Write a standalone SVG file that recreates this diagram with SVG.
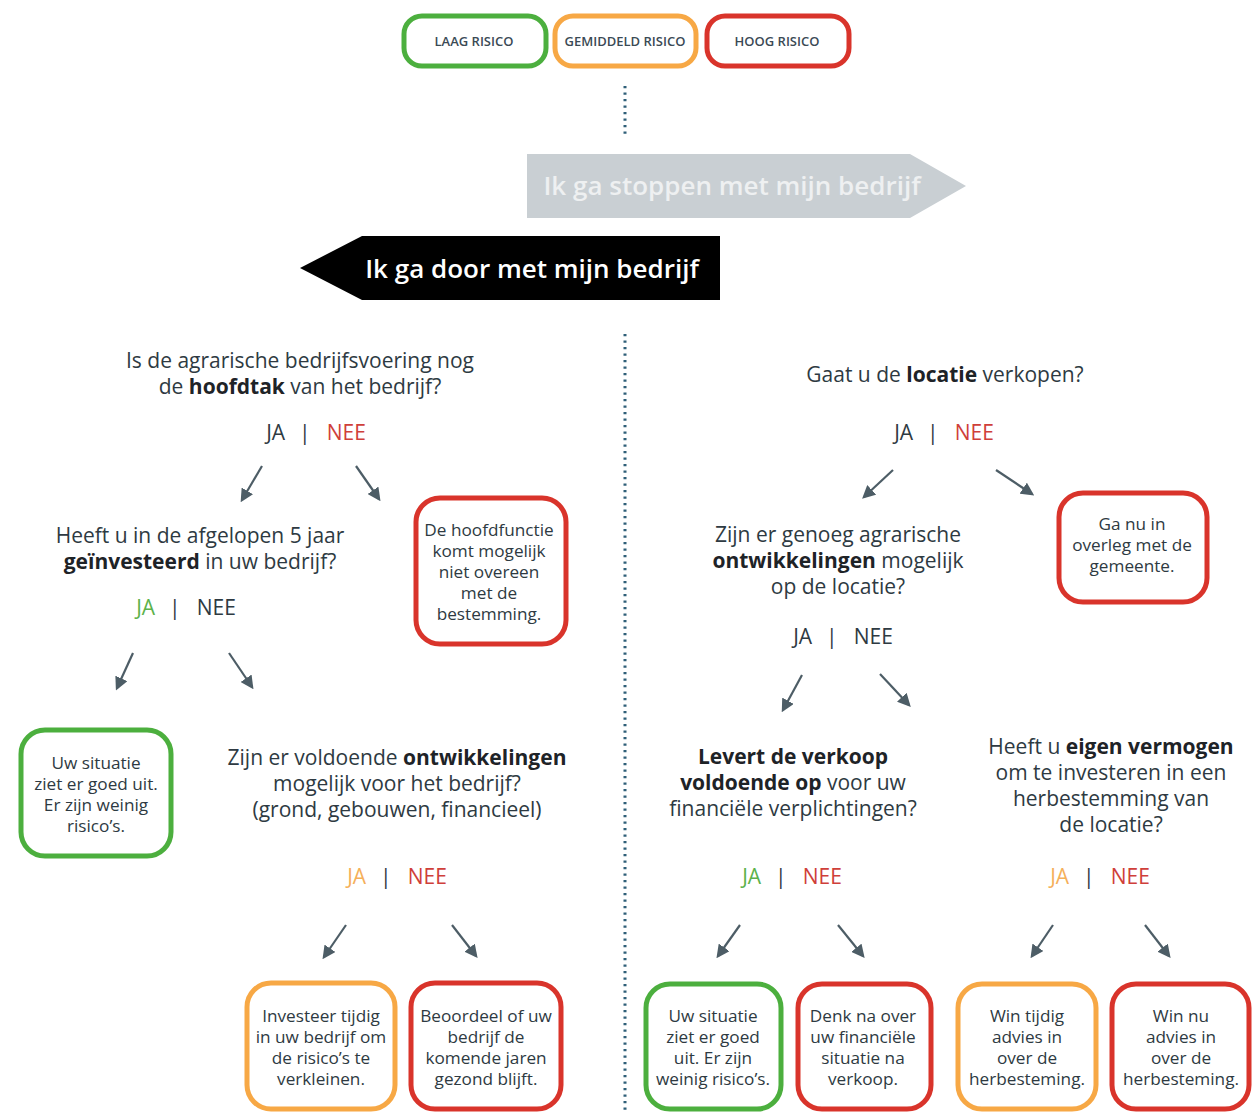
<svg xmlns="http://www.w3.org/2000/svg" width="1253" height="1113" viewBox="0 0 1253 1113">
<defs>
<style>
text{font-family:"Open Sans","Noto Sans","Liberation Sans",sans-serif;fill:#2e3a42;text-anchor:middle}
.q{font-size:21px}
.b{font-weight:bold;fill:#1e2327}
.bx{font-size:17.2px}
.lg{font-size:13px;font-weight:600;fill:#3b4a55}
.ja{font-size:21px}
.red{fill:#cf3f3a}
.grn{fill:#5cb24a}
.org{fill:#f5b05a}
.box{fill:#fff;stroke-width:5}
.sg{stroke:#4caf3e}
.so{stroke:#f7a845}
.sr{stroke:#d9342b}
.dot{stroke:#2f5f78;stroke-width:3;stroke-dasharray:2.2 4.3;fill:none}
.ar{stroke:#4d5d66;stroke-width:2.2;fill:none;marker-end:url(#ah)}
</style>
<marker id="ah" viewBox="0 0 10 10" refX="8" refY="5" markerWidth="6" markerHeight="6" orient="auto" markerUnits="strokeWidth">
<path d="M0,0 L10,5 L0,10 z" fill="#4d5d66"/>
</marker>
</defs>
<rect width="1253" height="1113" fill="#fff"/>

<g id="legend">
<g id="legend-laag"><rect class="box sg" x="404" y="16" width="142" height="50" rx="18"/><text class="lg" x="474" y="46">LAAG RISICO</text></g>
<g id="legend-gemiddeld"><rect class="box so" x="555" y="16" width="141" height="50" rx="18"/><text class="lg" x="625" y="46">GEMIDDELD RISICO</text></g>
<g id="legend-hoog"><rect class="box sr" x="707" y="16" width="142" height="50" rx="18"/><text class="lg" x="777" y="46">HOOG RISICO</text></g>
</g>

<g id="stoppen">
<polygon points="527,154 910,154 966,186 910,218 527,218" fill="#c9cfd3"/>
<text x="732" y="195" style="font-size:26px;font-weight:600;fill:#eef0f1">Ik ga stoppen met mijn bedrijf</text>
</g>
<g id="door">
<polygon points="300,268 362,236 720,236 720,300 362,300" fill="#000"/>
<text x="532" y="278" style="font-size:26px;font-weight:600;fill:#fff">Ik ga door met mijn bedrijf</text>
</g>

<g id="connectors">
<line class="dot" x1="625" y1="86" x2="625" y2="134"/>
<line class="dot" x1="625" y1="334" x2="625" y2="1113"/>
<line class="ar" x1="262" y1="466" x2="242" y2="500"/>
<line class="ar" x1="356" y1="466" x2="379" y2="499"/>
<line class="ar" x1="133" y1="653" x2="117" y2="688"/>
<line class="ar" x1="229" y1="653" x2="252" y2="687"/>
<line class="ar" x1="346" y1="925" x2="324" y2="957"/>
<line class="ar" x1="452" y1="925" x2="476" y2="956"/>
<line class="ar" x1="893" y1="470" x2="864" y2="497"/>
<line class="ar" x1="996" y1="470" x2="1032" y2="494"/>
<line class="ar" x1="802" y1="675" x2="783" y2="710"/>
<line class="ar" x1="880" y1="674" x2="909" y2="705"/>
<line class="ar" x1="740" y1="925" x2="718" y2="956"/>
<line class="ar" x1="838" y1="925" x2="863" y2="956"/>
<line class="ar" x1="1053" y1="925" x2="1032" y2="956"/>
<line class="ar" x1="1145" y1="925" x2="1169" y2="956"/>
</g>

<g id="q1">
<text class="q" x="300" y="368">Is de agrarische bedrijfsvoering nog</text>
<text class="q" x="300" y="394">de <tspan class="b">hoofdtak</tspan> van het bedrijf?</text>
<text class="ja" x="316" y="440"><tspan>JA</tspan><tspan dx="14">|</tspan><tspan dx="16" class="red">NEE</tspan></text>
</g>

<g id="q2">
<text class="q" x="200" y="543">Heeft u in de afgelopen 5 jaar</text>
<text class="q" x="200" y="569"><tspan class="b">geïnvesteerd</tspan> in uw bedrijf?</text>
<text class="ja" x="186" y="615"><tspan class="grn">JA</tspan><tspan dx="14">|</tspan><tspan dx="16">NEE</tspan></text>
</g>

<g id="box-hoofdfunctie">
<rect class="box sr" x="416" y="498" width="150" height="146" rx="24"/>
<text class="bx" x="489" y="536">De hoofdfunctie</text>
<text class="bx" x="489" y="557">komt mogelijk</text>
<text class="bx" x="489" y="578">niet overeen</text>
<text class="bx" x="489" y="599">met de</text>
<text class="bx" x="489" y="620">bestemming.</text>
</g>

<g id="box-goed1">
<rect class="box sg" x="21" y="730" width="150" height="126" rx="24"/>
<text class="bx" x="96" y="769">Uw situatie</text>
<text class="bx" x="96" y="790">ziet er goed uit.</text>
<text class="bx" x="96" y="811">Er zijn weinig</text>
<text class="bx" x="96" y="832">risico’s.</text>
</g>

<g id="q3">
<text class="q" x="397" y="765">Zijn er voldoende <tspan class="b">ontwikkelingen</tspan></text>
<text class="q" x="397" y="791">mogelijk voor het bedrijf?</text>
<text class="q" x="397" y="817">(grond, gebouwen, financieel)</text>
<text class="ja" x="397" y="884"><tspan class="org">JA</tspan><tspan dx="14">|</tspan><tspan dx="16" class="red">NEE</tspan></text>
</g>

<g id="box-investeer">
<rect class="box so" x="247" y="983" width="148" height="126" rx="24"/>
<text class="bx" x="321" y="1022">Investeer tijdig</text>
<text class="bx" x="321" y="1043">in uw bedrijf om</text>
<text class="bx" x="321" y="1064">de risico’s te</text>
<text class="bx" x="321" y="1085">verkleinen.</text>
</g>

<g id="box-beoordeel">
<rect class="box sr" x="411" y="983" width="150" height="126" rx="24"/>
<text class="bx" x="486" y="1022">Beoordeel of uw</text>
<text class="bx" x="486" y="1043">bedrijf de</text>
<text class="bx" x="486" y="1064">komende jaren</text>
<text class="bx" x="486" y="1085">gezond blijft.</text>
</g>

<g id="q4">
<text class="q" x="945" y="382">Gaat u de <tspan class="b">locatie</tspan> verkopen?</text>
<text class="ja" x="944" y="440"><tspan>JA</tspan><tspan dx="14">|</tspan><tspan dx="16" class="red">NEE</tspan></text>
</g>

<g id="box-gemeente">
<rect class="box sr" x="1059" y="493" width="148" height="109" rx="24"/>
<text class="bx" x="1132" y="530">Ga nu in</text>
<text class="bx" x="1132" y="551">overleg met de</text>
<text class="bx" x="1132" y="572">gemeente.</text>
</g>

<g id="q5">
<text class="q" x="838" y="542">Zijn er genoeg agrarische</text>
<text class="q" x="838" y="568"><tspan class="b">ontwikkelingen</tspan> mogelijk</text>
<text class="q" x="838" y="594">op de locatie?</text>
<text class="ja" x="843" y="644"><tspan>JA</tspan><tspan dx="14">|</tspan><tspan dx="16">NEE</tspan></text>
</g>

<g id="q6">
<text class="q" x="793" y="764"><tspan class="b">Levert de verkoop</tspan></text>
<text class="q" x="793" y="790"><tspan class="b">voldoende op</tspan> voor uw</text>
<text class="q" x="793" y="816">financiële verplichtingen?</text>
<text class="ja" x="792" y="884"><tspan class="grn">JA</tspan><tspan dx="14">|</tspan><tspan dx="16" class="red">NEE</tspan></text>
</g>

<g id="q7">
<text class="q" x="1111" y="754">Heeft u <tspan class="b">eigen vermogen</tspan></text>
<text class="q" x="1111" y="780">om te investeren in een</text>
<text class="q" x="1111" y="806">herbestemming van</text>
<text class="q" x="1111" y="832">de locatie?</text>
<text class="ja" x="1100" y="884"><tspan class="org">JA</tspan><tspan dx="14">|</tspan><tspan dx="16" class="red">NEE</tspan></text>
</g>

<g id="box-goed2">
<rect class="box sg" x="646" y="984" width="135" height="125" rx="24"/>
<text class="bx" x="713" y="1022">Uw situatie</text>
<text class="bx" x="713" y="1043">ziet er goed</text>
<text class="bx" x="713" y="1064">uit. Er zijn</text>
<text class="bx" x="713" y="1085">weinig risico’s.</text>
</g>

<g id="box-denk">
<rect class="box sr" x="798" y="984" width="133" height="125" rx="24"/>
<text class="bx" x="863" y="1022">Denk na over</text>
<text class="bx" x="863" y="1043">uw financiële</text>
<text class="bx" x="863" y="1064">situatie na</text>
<text class="bx" x="863" y="1085">verkoop.</text>
</g>

<g id="box-wintijdig">
<rect class="box so" x="958" y="984" width="138" height="125" rx="24"/>
<text class="bx" x="1027" y="1022">Win tijdig</text>
<text class="bx" x="1027" y="1043">advies in</text>
<text class="bx" x="1027" y="1064">over de</text>
<text class="bx" x="1027" y="1085">herbesteming.</text>
</g>

<g id="box-winnu">
<rect class="box sr" x="1112" y="984" width="137" height="125" rx="24"/>
<text class="bx" x="1181" y="1022">Win nu</text>
<text class="bx" x="1181" y="1043">advies in</text>
<text class="bx" x="1181" y="1064">over de</text>
<text class="bx" x="1181" y="1085">herbesteming.</text>
</g>
</svg>
